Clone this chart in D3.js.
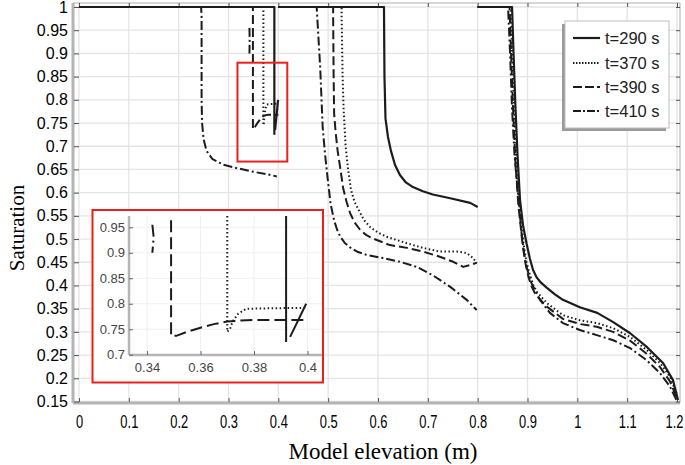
<!DOCTYPE html>
<html><head><meta charset="utf-8">
<script src="https://cdn.jsdelivr.net/npm/d3@7"></script>
<style>html,body{margin:0;padding:0;background:#fff}svg{display:block}</style>
</head><body><svg id="c" width="685" height="465"></svg>
<script>
// ---------- data ----------
const xTicks = [0,0.1,0.2,0.3,0.4,0.5,0.6,0.7,0.8,0.9,1,1.1,1.2];
const xTickLabels = ["0","0.1","0.2","0.3","0.4","0.5","0.6","0.7","0.8","0.9","1","1.1","1.2"];
const yTicks = [0.15,0.2,0.25,0.3,0.35,0.4,0.45,0.5,0.55,0.6,0.65,0.7,0.75,0.8,0.85,0.9,0.95,1];
const yTickLabels = ["0.15","0.2","0.25","0.3","0.35","0.4","0.45","0.5","0.55","0.6","0.65","0.7","0.75","0.8","0.85","0.9","0.95","1"];
const insetXTicks = [0.34,0.36,0.38,0.4];
const insetXTickLabels = ["0.34","0.36","0.38","0.4"];
const insetYTicks = [0.7,0.75,0.8,0.85,0.9,0.95];
const insetYTickLabels = ["0.7","0.75","0.8","0.85","0.9","0.95"];
const seriesNames = ["t=290 s","t=370 s","t=390 s","t=410 s"];

// each series: list of segments, each segment a list of [elevation, saturation]
const t290 = [
  [[0,1],[0.392,1],[0.392,0.725]],
  [[0.3935,0.735],[0.3995,0.80]],
  [[0.40,1],[0.612,1],[0.613,0.85],[0.615,0.76],[0.62,0.72],[0.626,0.69],[0.634,0.66],[0.644,0.638],[0.656,0.622],[0.67,0.612],[0.69,0.603],[0.71,0.596],[0.745,0.588],[0.785,0.578],[0.80,0.569]],
  [[0.80,1],[0.869,1],[0.872,0.9],[0.876,0.78],[0.880,0.68],[0.885,0.584],[0.891,0.53],[0.898,0.491],[0.905,0.457],[0.911,0.434],[0.918,0.418],[0.927,0.406],[0.939,0.395],[0.955,0.381],[0.971,0.369],[1.005,0.353],[1.040,0.341],[1.072,0.321],[1.106,0.297],[1.140,0.267],[1.172,0.233],[1.192,0.196],[1.202,0.153]]
];
const t370 = [
  [[0,1],[0.370,1],[0.370,0.745],[0.371,0.75],[0.372,0.765],[0.374,0.78],[0.377,0.79],[0.385,0.791],[0.40,0.792]],
  [[0.40,1],[0.527,1],[0.527,0.98],[0.529,0.85],[0.531,0.78],[0.535,0.70],[0.54,0.65],[0.546,0.605],[0.553,0.58],[0.561,0.563],[0.572,0.541],[0.584,0.526],[0.6,0.514],[0.617,0.505],[0.658,0.491],[0.69,0.481],[0.724,0.473],[0.758,0.473],[0.778,0.47],[0.791,0.459],[0.798,0.448]],
  [[0.80,1],[0.866,1],[0.869,0.9],[0.873,0.78],[0.878,0.66],[0.884,0.57],[0.892,0.49],[0.898,0.45],[0.905,0.422],[0.912,0.4],[0.919,0.386],[0.939,0.362],[0.971,0.336],[1.005,0.325],[1.039,0.319],[1.072,0.308],[1.106,0.289],[1.139,0.261],[1.166,0.233],[1.186,0.203],[1.199,0.168]]
];
const t390 = [
  [[0,1],[0.349,1],[0.349,0.737],[0.351,0.737],[0.355,0.745],[0.36,0.753],[0.365,0.76],[0.37,0.765],[0.375,0.767],[0.38,0.768],[0.40,0.768]],
  [[0.40,1],[0.510,1],[0.510,0.98],[0.511,0.85],[0.512,0.77],[0.515,0.73],[0.519,0.69],[0.524,0.655],[0.53,0.61],[0.537,0.58],[0.544,0.556],[0.553,0.536],[0.564,0.52],[0.576,0.509],[0.59,0.501],[0.624,0.487],[0.658,0.481],[0.69,0.473],[0.724,0.462],[0.751,0.451],[0.771,0.44],[0.785,0.444],[0.798,0.449]],
  [[0.80,1],[0.864,1],[0.867,0.9],[0.871,0.78],[0.876,0.66],[0.882,0.57],[0.89,0.49],[0.896,0.447],[0.902,0.418],[0.909,0.396],[0.916,0.381],[0.937,0.356],[0.971,0.328],[1.005,0.317],[1.039,0.311],[1.072,0.30],[1.106,0.281],[1.139,0.253],[1.166,0.224],[1.186,0.193],[1.199,0.16]]
];
const t410 = [
  [[0,1],[0.245,1],[0.246,0.98],[0.246,0.80],[0.247,0.75],[0.25,0.715],[0.256,0.69],[0.268,0.672],[0.29,0.66],[0.32,0.652],[0.35,0.645],[0.38,0.639],[0.397,0.635]],
  [[0.342,0.955],[0.3425,0.93],[0.342,0.90]],
  [[0.40,1],[0.477,1],[0.478,0.98],[0.484,0.87],[0.489,0.74],[0.494,0.68],[0.499,0.63],[0.505,0.575],[0.512,0.54],[0.518,0.52],[0.524,0.506],[0.533,0.492],[0.544,0.482],[0.56,0.472],[0.577,0.466],[0.61,0.459],[0.644,0.451],[0.678,0.44],[0.71,0.422],[0.745,0.397],[0.778,0.369],[0.798,0.347]],
  [[0.80,1],[0.861,1],[0.865,0.9],[0.869,0.78],[0.874,0.68],[0.882,0.584],[0.888,0.513],[0.893,0.47],[0.898,0.44],[0.908,0.405],[0.925,0.369],[0.945,0.341],[0.971,0.319],[1.005,0.304],[1.039,0.293],[1.072,0.282],[1.106,0.265],[1.139,0.239],[1.166,0.211],[1.186,0.182],[1.199,0.153]]
];
const seriesData = [t290, t370, t390, t410];

// ---------- styles ----------
const dashes = [null, "1.5,2.5", "9,4", "9,3,2,3"];
const lineCol = "#1c1c1c";

const svg = d3.select("#c");
const x = d3.scaleLinear().domain([0,1.2]).range([79,677]);
const y = d3.scaleLinear().domain([0.15,1]).range([401.5,7]);
const frame = {l:73, r:680, t:3, b:403};

// grid
const g = svg.append("g");
g.selectAll(".gx").data(xTicks).join("line")
  .attr("x1",d=>x(d)).attr("x2",d=>x(d)).attr("y1",frame.t).attr("y2",frame.b)
  .attr("stroke","#e4e4e4").attr("stroke-width",1.3);
g.selectAll(".gy").data(yTicks).join("line")
  .attr("y1",d=>y(d)).attr("y2",d=>y(d)).attr("x1",frame.l).attr("x2",frame.r)
  .attr("stroke","#e4e4e4").attr("stroke-width",1.3);

// frame
g.append("line").attr("x1",frame.l).attr("x2",frame.r).attr("y1",frame.t).attr("y2",frame.t).attr("stroke","#c8c8c8").attr("stroke-width",1.5);
g.append("line").attr("x1",frame.r).attr("x2",frame.r).attr("y1",frame.t).attr("y2",frame.b).attr("stroke","#c8c8c8").attr("stroke-width",1.5);
g.append("line").attr("x1",frame.l).attr("x2",frame.r).attr("y1",frame.b).attr("y2",frame.b).attr("stroke","#b4b4b4").attr("stroke-width",3);
g.append("line").attr("x1",frame.l).attr("x2",frame.l).attr("y1",frame.t).attr("y2",frame.b).attr("stroke","#b4b4b4").attr("stroke-width",3);

// axes via d3
const xAxis = d3.axisBottom(x).tickValues(xTicks).tickFormat((d,i)=>xTickLabels[i]).tickSize(-4).tickPadding(13);
const yAxis = d3.axisLeft(y).tickValues(yTicks).tickFormat((d,i)=>yTickLabels[i]).tickSize(-5).tickPadding(6);
const gx = svg.append("g").attr("transform",`translate(0,${frame.b-1})`).call(xAxis);
const gy = svg.append("g").attr("transform",`translate(${frame.l+1},0)`).call(yAxis);
[gx,gy].forEach(a=>{a.select(".domain").remove(); a.selectAll(".tick line").attr("stroke","#555").attr("stroke-width",1);});
gx.selectAll("text").attr("font-family","Liberation Sans, Arial, sans-serif").attr("font-size",19).attr("fill","#000")
  .attr("x",0).attr("transform",(d,i)=> i===xTicks.length-1 ? "translate(-3,0) scale(0.68,1)" : "scale(0.68,1)");
gy.selectAll("text").attr("font-family","Liberation Sans, Arial, sans-serif").attr("font-size",16).attr("fill","#000");
// top & right small ticks
const gt = svg.append("g").attr("transform",`translate(0,${frame.t})`).call(d3.axisTop(x).tickValues(xTicks).tickSize(-4).tickFormat(""));
const gr = svg.append("g").attr("transform",`translate(${frame.r},0)`).call(d3.axisRight(y).tickValues(yTicks).tickSize(-4).tickFormat(""));
[gt,gr].forEach(a=>{a.select(".domain").remove(); a.selectAll(".tick line").attr("stroke","#555");});

// data lines
const line = d3.line().x(d=>x(d[0])).y(d=>y(d[1])).curve(d3.curveLinear);
const dataG = svg.append("g");
seriesData.forEach((segs,i)=>{
  dataG.selectAll(null).data(segs).join("path")
    .attr("d",line).attr("fill","none").attr("stroke",lineCol)
    .attr("stroke-width", i===0?2.2:2).attr("stroke-dasharray",dashes[i])
    .attr("stroke-linejoin","round");
});

// red highlight box in main plot
svg.append("rect").attr("x",x(0.318)).attr("y",y(0.88)).attr("width",x(0.418)-x(0.318)).attr("height",y(0.667)-y(0.88))
  .attr("fill","none").attr("stroke","#e8211c").attr("stroke-width",2);

// axis titles
svg.append("text").attr("x",383).attr("y",459).attr("text-anchor","middle")
  .attr("font-family","Liberation Serif, Times New Roman, serif").attr("font-size",23).text("Model elevation (m)");
svg.append("text").attr("transform","translate(24,228) rotate(-90)").attr("text-anchor","middle")
  .attr("font-family","Liberation Serif, Times New Roman, serif").attr("font-size",21).text("Saturation");

// ---------- inset ----------
const ix = d3.scaleLinear().domain([0.34,0.40]).range([147,307.5]);
const iy = d3.scaleLinear().domain([0.7,0.95]).range([354.7,227.3]);
const inset = {l:129, r:322, t:216, b:355};
const ig = svg.append("g");
ig.append("rect").attr("x",92.5).attr("y",210).attr("width",230.5).attr("height",172.5)
  .attr("fill","#fff").attr("stroke","#e8211c").attr("stroke-width",2);
ig.selectAll(".igx").data(insetXTicks).join("line").attr("x1",d=>ix(d)).attr("x2",d=>ix(d)).attr("y1",inset.t).attr("y2",inset.b).attr("stroke","#f0f0f0");
ig.selectAll(".igy").data(insetYTicks).join("line").attr("y1",d=>iy(d)).attr("y2",d=>iy(d)).attr("x1",inset.l).attr("x2",inset.r).attr("stroke","#f0f0f0");
ig.append("line").attr("x1",inset.l).attr("x2",inset.r).attr("y1",inset.b).attr("y2",inset.b).attr("stroke","#b4b4b4").attr("stroke-width",2.5);
ig.append("line").attr("x1",inset.l).attr("x2",inset.l).attr("y1",inset.t).attr("y2",inset.b).attr("stroke","#b4b4b4").attr("stroke-width",2.5);
const igx = ig.append("g").attr("transform",`translate(0,${inset.b})`).call(d3.axisBottom(ix).tickValues(insetXTicks).tickFormat((d,i)=>insetXTickLabels[i]).tickSize(-4).tickPadding(8));
const igy = ig.append("g").attr("transform",`translate(${inset.l},0)`).call(d3.axisLeft(iy).tickValues(insetYTicks).tickFormat((d,i)=>insetYTickLabels[i]).tickSize(-4).tickPadding(4));
[igx,igy].forEach(a=>{a.select(".domain").remove(); a.selectAll(".tick line").attr("stroke","#666");
  a.selectAll("text").attr("font-family","Liberation Sans, Arial, sans-serif").attr("font-size",13).attr("fill","#444");});
ig.append("clipPath").attr("id","iclip").append("rect").attr("x",inset.l+1).attr("y",inset.t).attr("width",inset.r-inset.l-1).attr("height",inset.b-inset.t-2);
const iline = d3.line().x(d=>ix(d[0])).y(d=>iy(d[1]));
const idata = ig.append("g").attr("clip-path","url(#iclip)");
seriesData.forEach((segs,i)=>{
  idata.selectAll(null).data(segs).join("path")
    .attr("d",iline).attr("fill","none").attr("stroke",lineCol)
    .attr("stroke-width",2).attr("stroke-dasharray",dashes[i]===null?null:(i===1?"1.5,2.5":(i===2?"12,5":"12,4,2,4")));
});

// ---------- legend ----------
const lg = svg.append("g");
lg.append("rect").attr("x",562).attr("y",24).attr("width",104).attr("height",107).attr("fill","#9a9a9a");
lg.append("rect").attr("x",565).attr("y",21).attr("width",104).attr("height",107).attr("fill","#fff").attr("stroke","#bdbdbd").attr("stroke-width",1);
const rowY = [38,63,87,111];
seriesNames.forEach((n,i)=>{
  lg.append("line").attr("x1",573).attr("x2",600).attr("y1",rowY[i]).attr("y2",rowY[i])
    .attr("stroke",lineCol).attr("stroke-width",2.2).attr("stroke-dasharray",i===1?"1.5,1.5":(i===2?"9,3":(i===3?"8,2,2,2":null)));
  lg.append("text").attr("x",605).attr("y",rowY[i]+6).attr("font-family","Liberation Sans, Arial, sans-serif")
    .attr("font-size",16.5).attr("fill","#222").text(n);
});
</script></body></html>
